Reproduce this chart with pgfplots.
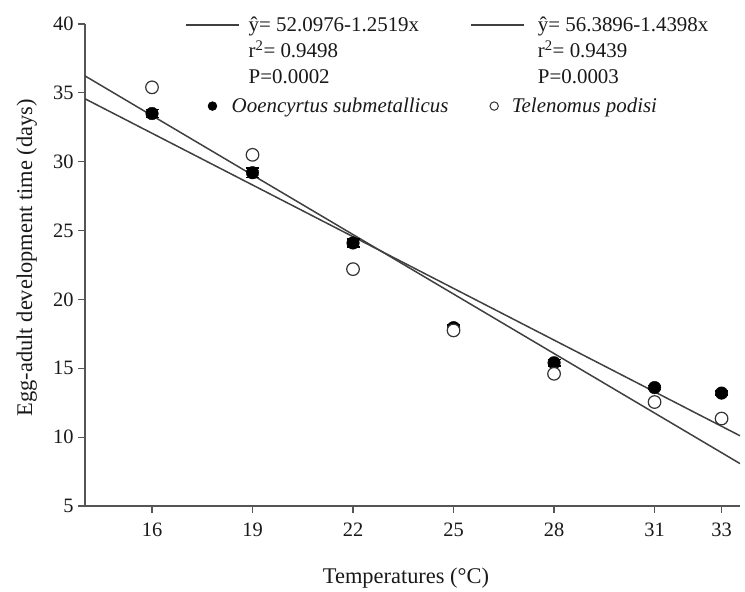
\documentclass[border=0pt]{standalone}
\usepackage{pgfplots}
\pgfplotsset{compat=1.18}
\usepackage{fontspec}
\setmainfont{Liberation Serif}
\definecolor{ax}{HTML}{555555}
\definecolor{ln}{HTML}{404040}
\pgfplotsset{
  lineleg/.style={legend image code/.code={\draw[##1] (0bp,26bp) -- (53bp,26bp);}},
  markleg/.style={legend image code/.code={\draw[##1, mark size=4.2bp, line width=1bp] plot coordinates {(#1,0bp)};}},
}
\begin{document}
\begin{tikzpicture}
\path[use as bounding box] (0,0) rectangle (745bp,592bp);
\begin{axis}[
  at={(85bp,86bp)}, anchor=south west,
  scale only axis, width=655bp, height=482bp,
  xmin=14, xmax=33.55, ymin=5, ymax=40,
  axis x line*=bottom, axis y line*=left,
  axis line style={ax, line width=1.4bp},
  tick style={ax, line width=1.2bp},
  tick align=outside, major tick length=7bp,
  xtick={16,19,22,25,28,31,33},
  ytick={5,10,...,40},
  /pgf/number format/assume math mode=true,
  tick label style={font=\fontsize{20.5}{24}\selectfont, text=black!90},
  xticklabel style={yshift=-6bp},
  yticklabel style={xshift=-1bp},
  xlabel={Temperatures (°C)},
  ylabel={Egg-adult development time (days)},
  label style={font=\fontsize{22.5}{27}\selectfont, text=black!90},
  xlabel style={at={(axis description cs:0.49,-0.149)}, anchor=center},
  ylabel style={at={(axis description cs:-0.089,0.515)}, anchor=center, rotate=0},
  clip=true,
  legend columns=2,
  legend cell align=left,
  legend style={at={(axis description cs:0.1527,1.0145)}, anchor=north west,
    draw=none, fill=none, inner sep=0pt, row sep=13bp,
    font=\fontsize{21}{26}\selectfont,
    nodes={inner sep=0pt, align=left, text=black!90},
    /tikz/column 1/.style={column sep=9bp},
    /tikz/column 2/.style={column sep=22bp},
    /tikz/column 3/.style={column sep=13bp}},
]
\addplot[ln, line width=1.5bp, no marks, lineleg] coordinates {(14,34.57) (33.55,10.10)};
\addlegendentry{ŷ= 52.0976-1.2519x\\r\textsuperscript{2}= 0.9498\\P=0.0002}
\addplot[ln, line width=1.5bp, no marks, lineleg] coordinates {(14,36.23) (33.55,8.08)};
\addlegendentry{ŷ= 56.3896-1.4398x\\r\textsuperscript{2}= 0.9439\\P=0.0003}
\addplot[only marks, mark=*, mark size=6.3bp, black, fill=black, markleg=26.5bp,
  error bars/.cd, y dir=both, y explicit, error bar style={black, line width=1.5bp}, error mark options={rotate=90, mark size=6.5bp, line width=1.5bp}]
  coordinates {(16,33.5) +- (0,0.3) (19,29.2) +- (0,0.35) (22,24.1) +- (0,0.3) (25,17.95) +- (0,0.2) (28,15.4) +- (0,0.25) (31,13.6) +- (0,0.15) (33,13.2) +- (0,0.15)};
\addlegendentry{\hspace*{-17bp}\textit{Ooencyrtus submetallicus}}
\addplot[only marks, mark=*, mark size=6.3bp, black!80, fill=white, line width=1.2bp, markleg=23bp]
  coordinates {(16,35.4) (19,30.5) (22,22.2) (25,17.75) (28,14.6) (31,12.55) (33,11.35)};
\addlegendentry{\hspace*{-26bp}\textit{Telenomus podisi}}
\end{axis}
\end{tikzpicture}
\end{document}
